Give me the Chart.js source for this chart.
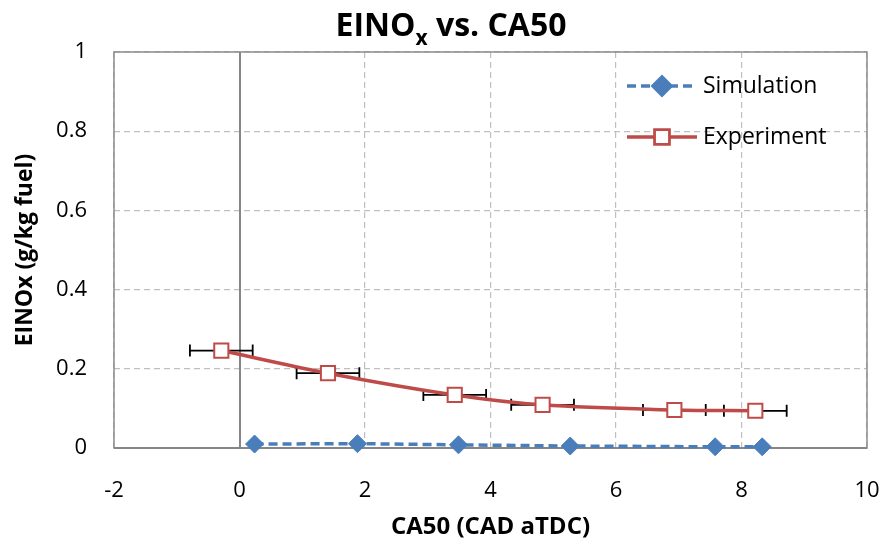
<!DOCTYPE html>
<html>
<head>
<meta charset="utf-8">
<script src="https://cdn.jsdelivr.net/npm/chart.js@4/dist/chart.umd.min.js"></script>
<style>
  html, body { margin: 0; padding: 0; background: #fff; }
  #wrap { width: 884px; height: 544px; }
</style>
</head>
<body>
<div id="wrap"><canvas id="chart-einox"></canvas></div>
<script>
// CA50 sweep, EINOx from simulation and experiment
var simCA50 = [0.24, 1.88, 3.49, 5.27, 7.58, 8.33];
var simEINOx = [0.010, 0.011, 0.008, 0.005, 0.003, 0.003];

var expCA50 = [-0.29, 1.41, 3.43, 4.83, 6.93, 8.22];
var expEINOx = [0.246, 0.189, 0.134, 0.109, 0.096, 0.094];
var expCA50Err = [0.5, 0.5, 0.5, 0.5, 0.5, 0.5];

var xTicks = [-2, 0, 2, 4, 6, 8, 10];
var yTicks = [0, 0.2, 0.4, 0.6, 0.8, 1];

var FONT = "'Open Sans'";
var BLUE = "#4A7EBB";
var RED = "#BE4B48";
var GRID = "#BFBFBF";

function toXY(xs, ys) {
  return xs.map(function (x, i) { return { x: x, y: ys[i] }; });
}

// title, axis at x = 0, error bars, border and legend
var extras = {
  id: "extras",
  beforeDatasetsDraw: function (chart) {
    var ctx = chart.ctx, xs = chart.scales.x, ys = chart.scales.y, a = chart.chartArea;
    ctx.save();
    // vertical axis crosses at x = 0
    ctx.strokeStyle = "#868686";
    ctx.lineWidth = 2;
    var x0 = Math.round(xs.getPixelForValue(0));
    ctx.beginPath();
    ctx.moveTo(x0, a.top);
    ctx.lineTo(x0, a.bottom);
    ctx.stroke();
    // plot border
    ctx.strokeStyle = "#8C8C8C";
    ctx.lineWidth = 1.5;
    ctx.strokeRect(a.left, a.top, a.right - a.left, a.bottom - a.top);
    ctx.strokeStyle = "#868686";
    ctx.lineWidth = 2;
    ctx.beginPath();
    ctx.moveTo(a.left, a.bottom);
    ctx.lineTo(a.right, a.bottom);
    ctx.stroke();
    // horizontal error bars on experiment
    ctx.strokeStyle = "#000";
    ctx.lineWidth = 1.8;
    for (var i = 0; i < expCA50.length; i++) {
      var xl = xs.getPixelForValue(expCA50[i] - expCA50Err[i]);
      var xr = xs.getPixelForValue(expCA50[i] + expCA50Err[i]);
      var yp = ys.getPixelForValue(expEINOx[i]);
      ctx.beginPath();
      ctx.moveTo(xl, yp); ctx.lineTo(xr, yp);
      ctx.moveTo(xl, yp - 6); ctx.lineTo(xl, yp + 6);
      ctx.moveTo(xr, yp - 6); ctx.lineTo(xr, yp + 6);
      ctx.stroke();
    }
    ctx.restore();
  },
  afterDraw: function (chart) {
    var ctx = chart.ctx;
    ctx.save();
    // title with subscript
    ctx.fillStyle = "#000";
    ctx.textBaseline = "alphabetic";
    var big = "bold 32px " + FONT, small = "bold 21px " + FONT;
    ctx.font = big;
    var w1 = ctx.measureText("EINO").width;
    var w3 = ctx.measureText(" vs. CA50").width;
    ctx.font = small;
    var w2 = ctx.measureText("x").width;
    var sx = 451 - (w1 + w2 + w3) / 2;
    ctx.font = big;
    ctx.textAlign = "left";
    ctx.fillText("EINO", sx, 36);
    ctx.font = small;
    ctx.fillText("x", sx + w1, 45);
    ctx.font = big;
    ctx.fillText(" vs. CA50", sx + w1 + w2, 36);

    // legend
    var items = chart.data.datasets;
    var rows = [86, 137];
    ctx.font = "23px " + FONT;
    ctx.textBaseline = "middle";
    items.forEach(function (ds, k) {
      var y = rows[k];
      ctx.strokeStyle = ds.borderColor;
      ctx.lineWidth = ds.borderWidth;
      ctx.setLineDash(ds.borderDash || []);
      ctx.beginPath();
      ctx.moveTo(627, y);
      ctx.lineTo(697, y);
      ctx.stroke();
      ctx.setLineDash([]);
      Chart.helpers.drawPoint(ctx, {
        pointStyle: ds.pointStyle,
        radius: ds.pointRadius,
        borderWidth: ds.pointBorderWidth
      }, 662, y);
      ctx.fillStyle = ds.pointBackgroundColor;
      ctx.strokeStyle = ds.pointBorderColor;
      ctx.lineWidth = ds.pointBorderWidth;
      ctx.fill();
      ctx.stroke();
      ctx.fillStyle = "#000";
      ctx.fillText(ds.label, 703, y);
    });
    ctx.restore();
  }
};

new Chart(document.getElementById("chart-einox"), {
  type: "scatter",
  data: {
    datasets: [{
      label: "Simulation",
      data: toXY(simCA50, simEINOx),
      showLine: true,
      clip: false,
      borderColor: BLUE,
      borderWidth: 3.5,
      borderDash: [9, 5],
      pointStyle: "rectRot",
      pointRadius: 9,
      pointBackgroundColor: BLUE,
      pointBorderColor: BLUE,
      pointBorderWidth: 1,
      tension: 0
    }, {
      label: "Experiment",
      data: toXY(expCA50, expEINOx),
      showLine: true,
      clip: false,
      borderColor: RED,
      borderWidth: 3.5,
      pointStyle: "rect",
      pointRadius: 10,
      pointBackgroundColor: "#fff",
      pointBorderColor: RED,
      pointBorderWidth: 2,
      tension: 0.35
    }]
  },
  options: {
    responsive: true,
    maintainAspectRatio: false,
    animation: false,
    layout: { padding: { top: 52, right: 17, left: 0, bottom: 0 } },
    plugins: {
      legend: { display: false },
      tooltip: { enabled: false }
    },
    scales: {
      x: {
        type: "linear",
        min: -2,
        max: 10,
        afterBuildTicks: function (s) { s.ticks = xTicks.map(function (v) { return { value: v }; }); },
        afterFit: function (s) { s.height = 96; s.paddingLeft = 0; s.paddingRight = 0; },
        grid: { color: GRID, lineWidth: 1.2, drawTicks: false },
        border: { display: false, dash: [6, 4] },
        ticks: {
          padding: 30,
          color: "#000",
          font: { family: FONT, size: 22 }
        },
        title: {
          display: true,
          text: "CA50 (CAD aTDC)",
          color: "#000",
          font: { family: FONT, size: 24, weight: "bold" },
          padding: { top: 0, bottom: 2 }
        }
      },
      y: {
        type: "linear",
        min: 0,
        max: 1,
        afterBuildTicks: function (s) { s.ticks = yTicks.map(function (v) { return { value: v }; }); },
        afterFit: function (s) { s.width = 114; },
        grid: { color: GRID, lineWidth: 1.2, drawTicks: false },
        border: { display: false, dash: [6, 4] },
        ticks: {
          padding: 27,
          color: "#000",
          font: { family: FONT, size: 22 },
          callback: function (v) { return String(Math.round(v * 10) / 10); }
        },
        title: {
          display: true,
          text: "EINOx (g/kg fuel)",
          color: "#000",
          font: { family: FONT, size: 23, weight: "bold" },
          padding: { top: 12, bottom: 0 }
        }
      }
    }
  },
  plugins: [extras]
});
</script>
</body>
</html>
